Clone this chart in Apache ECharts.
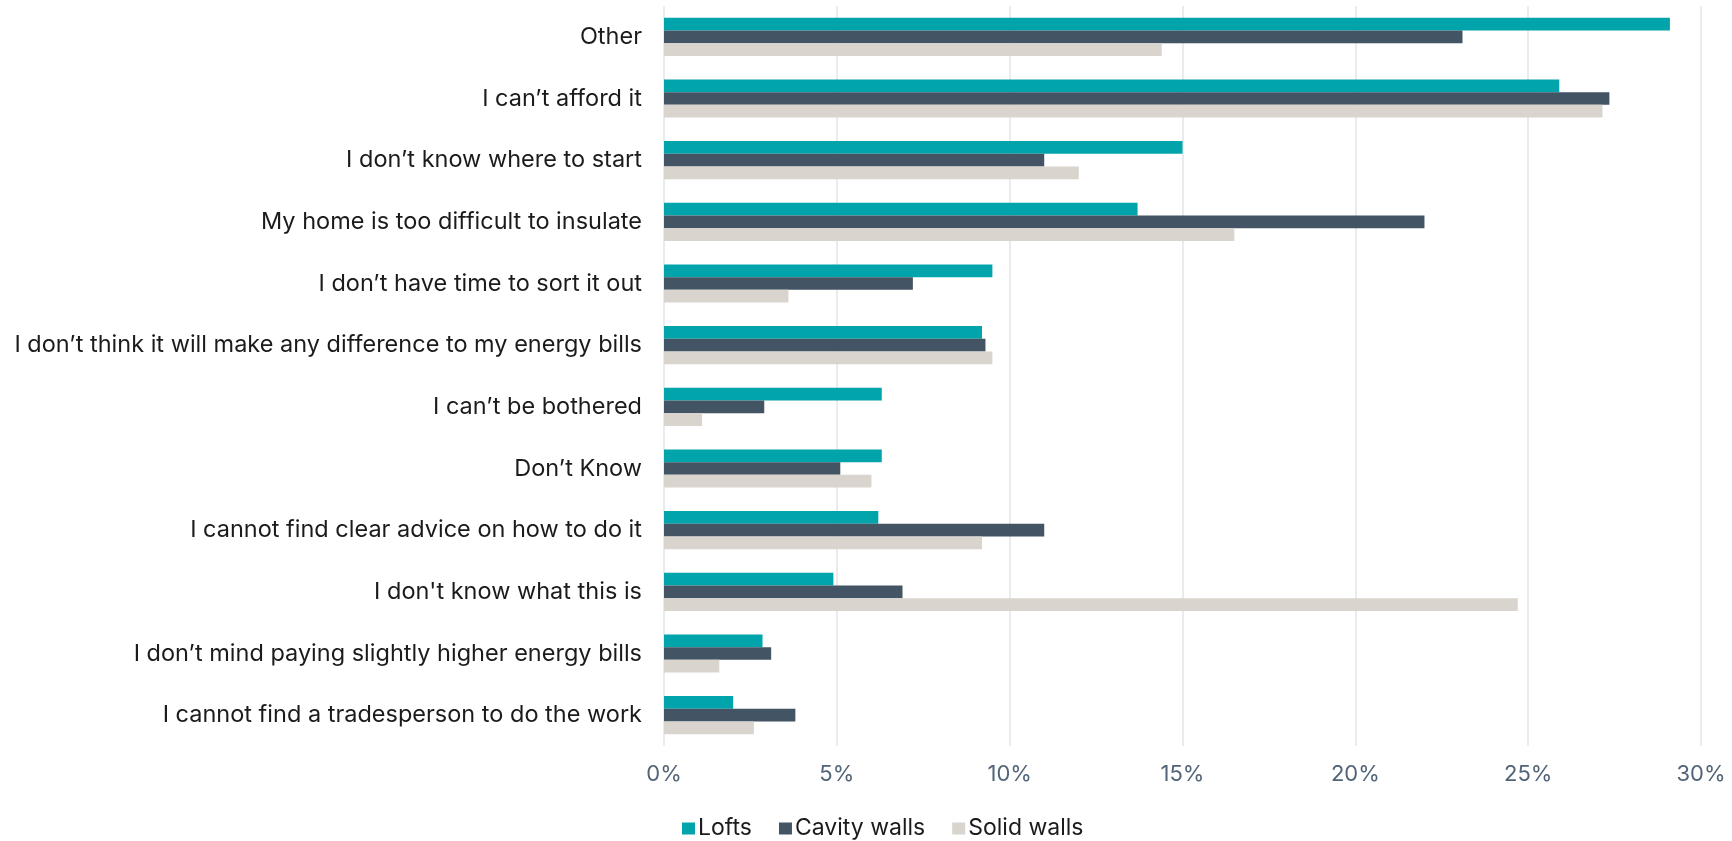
<!DOCTYPE html>
<html>
<head>
<meta charset="utf-8">
<title>Reasons for not insulating</title>
<script src="https://cdn.jsdelivr.net/npm/echarts@6/dist/echarts.min.js"></script>
<style>
  html, body { margin: 0; padding: 0; background: #ffffff; }
  #chart { width: 1732px; height: 841px; }
</style>
</head>
<body>
<div id="chart"></div>
<script>
// Reasons, listed top to bottom
const categories = [
  "Other",
  "I can\u2019t afford it",
  "I don\u2019t know where to start",
  "My home is too difficult to insulate",
  "I don\u2019t have time to sort it out",
  "I don\u2019t think it will make any difference to my energy bills",
  "I can\u2019t be bothered",
  "Don\u2019t Know",
  "I cannot find clear advice on how to do it",
  "I don't know what this is",
  "I don\u2019t mind paying slightly higher energy bills",
  "I cannot find a tradesperson to do the work"
];

// Share of respondents (%) per insulation type
const lofts       = [29.1, 25.9, 15.0, 13.7, 9.5, 9.2, 6.3, 6.3, 6.2, 4.9, 2.85, 2.0];
const cavityWalls = [23.1, 27.35, 11.0, 22.0, 7.2, 9.3, 2.9, 5.1, 11.0, 6.9, 3.1, 3.8];
const solidWalls  = [14.4, 27.15, 12.0, 16.5, 3.6, 9.5, 1.1, 6.0, 9.2, 24.7, 1.6, 2.6];

const seriesNames = ["Lofts", "Cavity walls", "Solid walls"];
const xTicks = [0, 5, 10, 15, 20, 25, 30];

const colors = ["#00a4aa", "#435564", "#d9d4ce"];
const fontFamily = "Inter, Roboto, sans-serif";

const chart = echarts.init(document.getElementById("chart"), null, { renderer: "canvas" });

const seriesData = [lofts, cavityWalls, solidWalls];

chart.setOption({
  animation: false,
  backgroundColor: "#ffffff",
  color: colors,
  textStyle: { fontFamily: fontFamily },
  grid: { left: 664, right: 31, top: 6, bottom: 95, containLabel: false },
  legend: {
    data: seriesNames,
    left: 677,
    bottom: -4,
    itemWidth: 13,
    itemHeight: 12,
    itemGap: 27,
    icon: "rect",
    textStyle: { fontFamily: fontFamily, fontSize: 23, color: "#1b1b1b", padding: [0, 0, 0, -2] }
  },
  xAxis: {
    type: "value",
    min: xTicks[0],
    max: xTicks[xTicks.length - 1],
    interval: 5,
    axisLine: { show: false },
    axisTick: { show: false },
    splitLine: { show: true, lineStyle: { color: "#e2e5e9", width: 1.5 } },
    axisLabel: {
      formatter: v => v + "%",
      fontSize: 22,
      color: "#526477",
      margin: 17,
      fontFamily: fontFamily
    }
  },
  yAxis: {
    type: "category",
    data: categories,
    inverse: true,
    axisLine: { show: false },
    axisTick: { show: false },
    splitLine: { show: false },
    axisLabel: {
      fontSize: 23.5,
      color: "#1b1b1b",
      margin: 22,
      fontFamily: fontFamily
    }
  },
  series: seriesNames.map((name, i) => ({
    name: name,
    type: "bar",
    data: seriesData[i],
    barGap: "0%",
    barCategoryGap: "38%",
    itemStyle: { color: colors[i] }
  }))
});
</script>
</body>
</html>
